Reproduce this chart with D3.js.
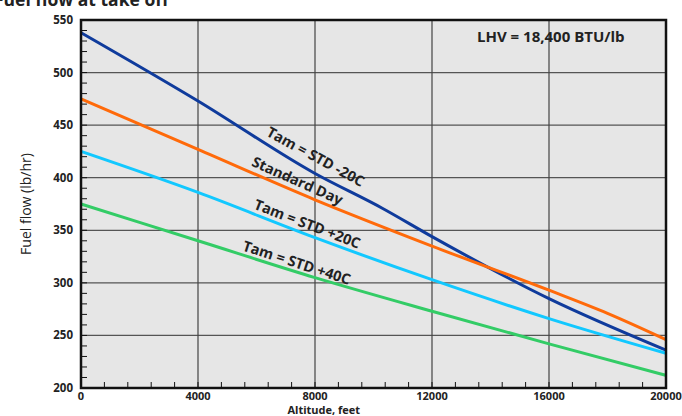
<!DOCTYPE html>
<html>
<head>
<meta charset="utf-8">
<script src="https://cdn.jsdelivr.net/npm/d3@7"></script>
<style>
  body { margin: 0; background: #fff; }
  svg { display: block; font-family: "Open Sans", "DejaVu Sans", sans-serif; }
</style>
</head>
<body>
<div id="chart"></div>
<script>
// Altitude (feet) and fuel flow (lb/hr)
const stdMinus20Alt = [0, 4000, 8000, 10300, 12000, 16000, 20000];
const stdMinus20Flow = [538, 473, 404, 371, 344, 285, 236];

const standardAlt = [0, 4000, 8000, 12000, 16000, 18000, 20000];
const standardFlow = [475, 427, 379, 335, 293, 271, 246];

const stdPlus20Alt = [0, 4000, 8000, 12000, 16000, 20000];
const stdPlus20Flow = [425, 386, 343, 303, 266, 233];

const stdPlus40Alt = [0, 4000, 8000, 12000, 16000, 20000];
const stdPlus40Flow = [375, 340, 305, 273, 242, 212];

const seriesNames = ["Tam = STD -20C", "Standard Day", "Tam = STD +20C", "Tam = STD +40C"];
const xTicks = [0, 4000, 8000, 12000, 16000, 20000];
const yTicks = [200, 250, 300, 350, 400, 450, 500, 550];

const width = 682, height = 416;
const margin = { top: 20, right: 16, bottom: 28, left: 81 };
const innerW = width - margin.left - margin.right;
const innerH = height - margin.top - margin.bottom;

const series = [
    { name: seriesNames[0], alt: stdMinus20Alt, flow: stdMinus20Flow, color: "#0f3b9c" },
    { name: seriesNames[1], alt: standardAlt, flow: standardFlow, color: "#ff6a0a" },
    { name: seriesNames[2], alt: stdPlus20Alt, flow: stdPlus20Flow, color: "#12c8ff" },
    { name: seriesNames[3], alt: stdPlus40Alt, flow: stdPlus40Flow, color: "#33cc66" }
];

// label placement (data coordinates + angle)
const labelPlace = [
    { alt: 8000, flow: 419, angle: 28.5 },
    { alt: 7380, flow: 396, angle: 24 },
    { alt: 7720, flow: 355, angle: 21 },
    { alt: 7360, flow: 318, angle: 18 }
];

const svg = d3.select("#chart").append("svg")
    .attr("width", width)
    .attr("height", height);

// Title, clipped at the top as in the source
svg.append("text")
    .attr("x", -6)
    .attr("y", 6)
    .attr("font-size", 17.5)
    .attr("font-weight", 700)
    .attr("fill", "#222")
    .text("Fuel flow at take off");

const g = svg.append("g")
    .attr("transform", `translate(${margin.left},${margin.top})`);

const x = d3.scaleLinear().domain([0, 20000]).range([0, innerW]);
const y = d3.scaleLinear().domain([200, 550]).range([innerH, 0]);

g.append("rect")
    .attr("width", innerW)
    .attr("height", innerH)
    .attr("fill", "#e6e6e6");

// Grid
g.append("g")
    .selectAll("line")
    .data(yTicks.slice(1, -1))
    .enter()
    .append("line")
    .attr("x1", 0).attr("x2", innerW)
    .attr("y1", d => y(d)).attr("y2", d => y(d))
    .style("stroke", "#555")
    .style("stroke-width", 1.3);

g.append("g")
    .selectAll("line")
    .data(xTicks.slice(1, -1))
    .enter()
    .append("line")
    .attr("y1", 0).attr("y2", innerH)
    .attr("x1", d => x(d)).attr("x2", d => x(d))
    .style("stroke", "#444")
    .style("stroke-width", 1.2);

// Minor ticks pointing inward
g.append("g")
    .selectAll("line")
    .data(d3.range(200, 551, 10))
    .enter()
    .append("line")
    .attr("x1", 0).attr("x2", 6)
    .attr("y1", d => y(d)).attr("y2", d => y(d))
    .style("stroke", "#111")
    .style("stroke-width", 1);

g.append("g")
    .selectAll("line")
    .data(d3.range(0, 20001, 800))
    .enter()
    .append("line")
    .attr("y1", innerH).attr("y2", innerH - 6)
    .attr("x1", d => x(d)).attr("x2", d => x(d))
    .style("stroke", "#111")
    .style("stroke-width", 1);

// Curves
const line = d3.line()
    .x(d => x(d[0]))
    .y(d => y(d[1]))
    .curve(d3.curveMonotoneX);

g.append("g")
    .selectAll("path")
    .data(series)
    .enter()
    .append("path")
    .attr("d", s => line(s.alt.map((a, i) => [a, s.flow[i]])))
    .style("fill", "none")
    .style("stroke", s => s.color)
    .style("stroke-width", 3);

// Frame
g.append("rect")
    .attr("width", innerW)
    .attr("height", innerH)
    .style("fill", "none")
    .style("stroke", "#111")
    .style("stroke-width", 2.5);

// Curve labels
g.append("g")
    .selectAll("text")
    .data(series)
    .enter()
    .append("text")
    .attr("transform", (s, i) => `translate(${x(labelPlace[i].alt)},${y(labelPlace[i].flow)}) rotate(${labelPlace[i].angle})`)
    .attr("text-anchor", "middle")
    .attr("dominant-baseline", "middle")
    .attr("font-size", 14.5)
    .attr("font-weight", 700)
    .attr("fill", "#222")
    .text(s => s.name);

// Note
g.append("text")
    .attr("x", x(16060))
    .attr("y", y(529))
    .attr("text-anchor", "middle")
    .attr("font-size", 15)
    .attr("font-weight", 700)
    .attr("fill", "#222")
    .text("LHV = 18,400 BTU/lb");

// Tick labels
g.append("g")
    .selectAll("text")
    .data(yTicks)
    .enter()
    .append("text")
    .attr("x", -8)
    .attr("y", d => y(d))
    .attr("dy", "0.35em")
    .attr("text-anchor", "end")
    .attr("font-size", 11.5)
    .attr("font-weight", 700)
    .attr("fill", "#222")
    .text(d => d);

g.append("g")
    .selectAll("text")
    .data(xTicks)
    .enter()
    .append("text")
    .attr("x", d => x(d))
    .attr("y", innerH + 12)
    .attr("text-anchor", "middle")
    .attr("font-size", 11)
    .attr("font-weight", 700)
    .attr("fill", "#222")
    .text(d => d);

// Axis titles
g.append("text")
    .attr("x", x(8300))
    .attr("y", innerH + 26)
    .attr("text-anchor", "middle")
    .attr("font-size", 11)
    .attr("font-weight", 700)
    .attr("fill", "#222")
    .text("Altitude, feet");

g.append("text")
    .attr("transform", `translate(${-50},${innerH / 2}) rotate(-90)`)
    .attr("text-anchor", "middle")
    .attr("font-size", 14)
    .attr("fill", "#222")
    .text("Fuel flow (lb/hr)");
</script>
</body>
</html>
